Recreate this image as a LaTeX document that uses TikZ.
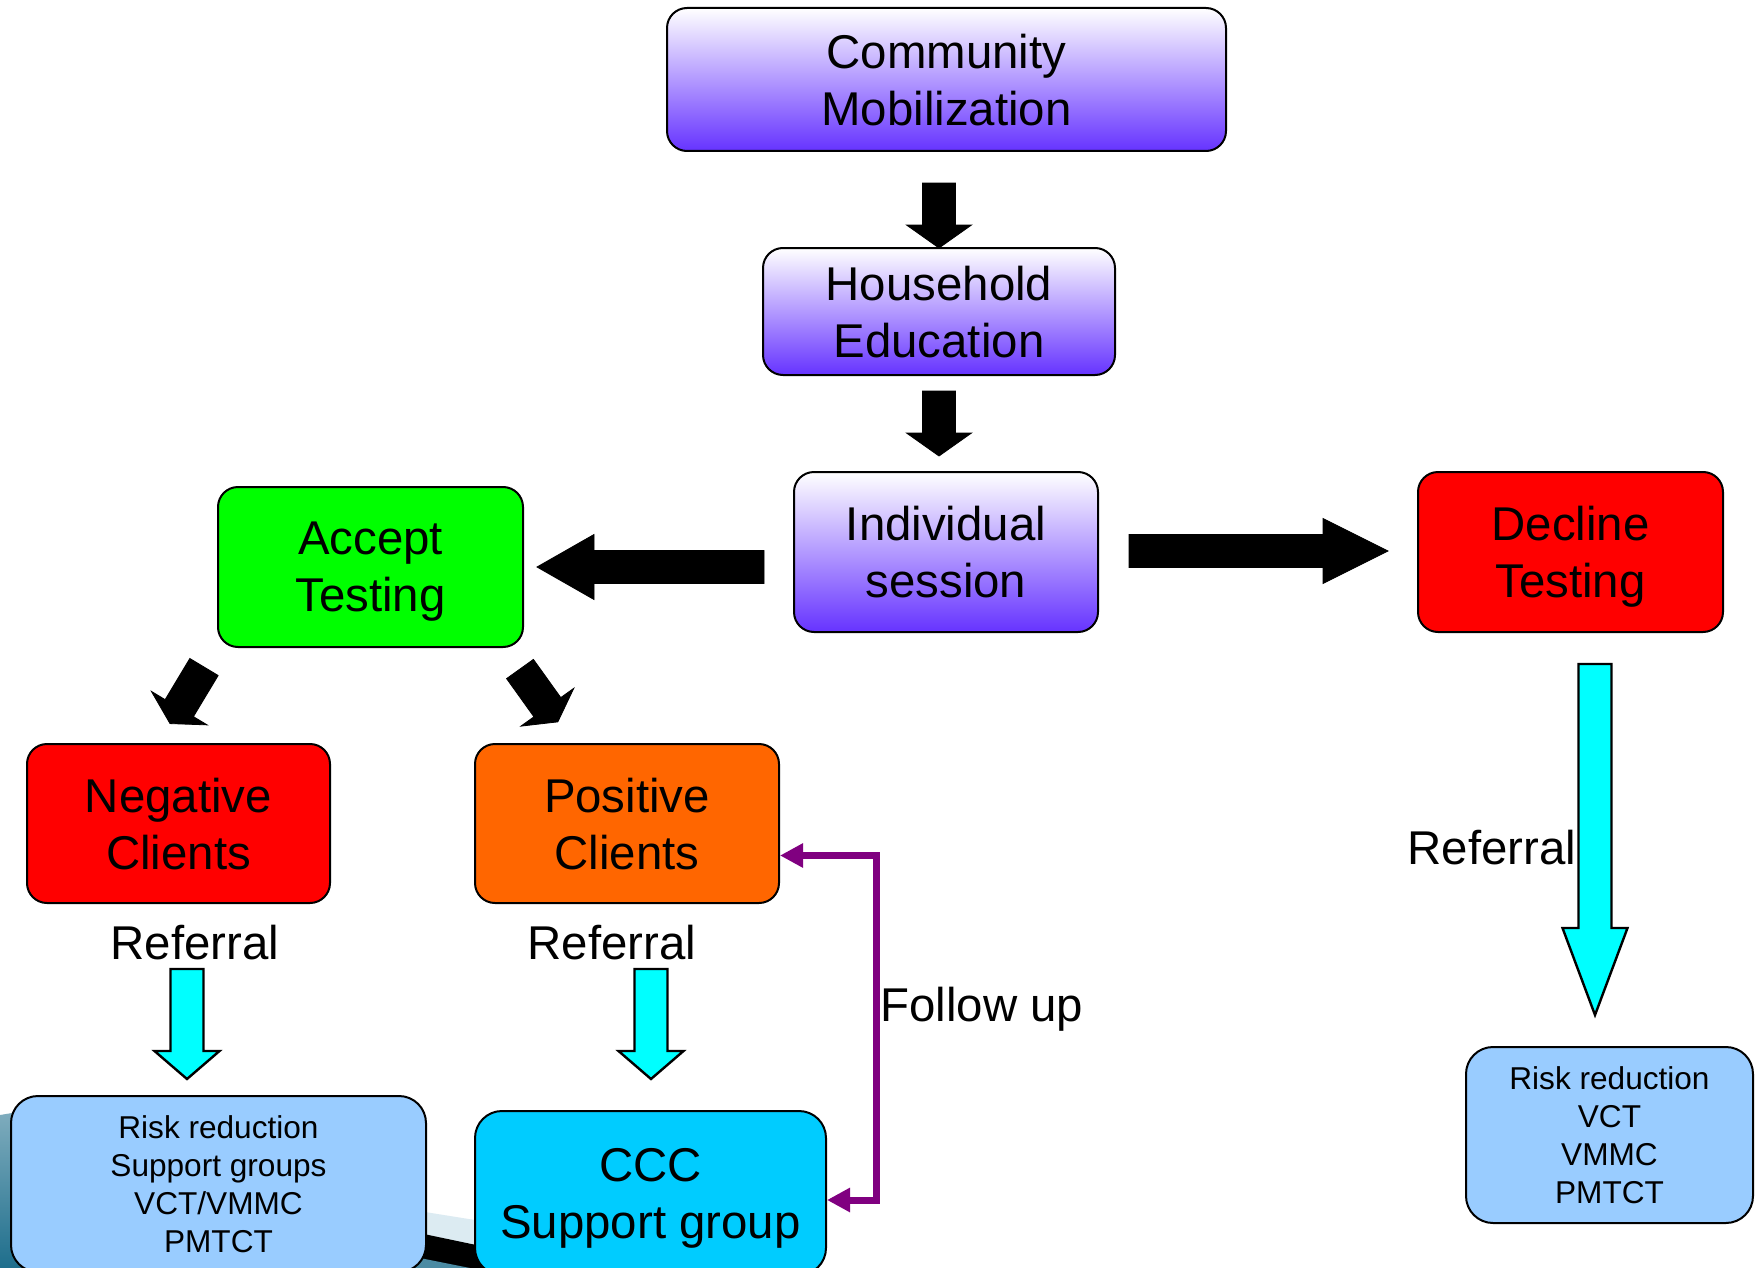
\documentclass[tikz,border=0pt]{standalone}
\usepackage{fontspec}
\setmainfont{Liberation Sans}
\usetikzlibrary{arrows.meta}

\definecolor{mobbottom}{RGB}{102,51,255}
\definecolor{acceptgreen}{RGB}{0,255,0}
\definecolor{declinered}{RGB}{255,0,0}
\definecolor{positiveorange}{RGB}{255,102,0}
\definecolor{servicesblue}{RGB}{153,204,255}
\definecolor{cccblue}{RGB}{0,204,255}
\definecolor{referralcyan}{RGB}{0,255,255}
\definecolor{followpurple}{RGB}{128,0,128}
\definecolor{slideteal}{RGB}{30,110,140}
\definecolor{slidepale}{RGB}{220,235,242}

\tikzset{
  stage/.style={draw=black, line width=1pt, rounded corners=10pt, align=center,
    inner sep=0pt, text depth=0pt, font=\fontsize{23.7}{28.5}\selectfont},
  education/.style={stage, top color=white, bottom color=mobbottom},
  services/.style={stage, fill=servicesblue, rounded corners=13.5pt,
    font=\fontsize{15.8}{19}\selectfont},
  referral/.style={inner sep=0pt, font=\fontsize{23.7}{28.5}\selectfont},
  blackarrow/.style={fill=black},
  cyanarrow/.style={draw=black, line width=1.2pt, fill=referralcyan},
  followup/.style={draw=followpurple, line width=3.5pt,
    {Triangle[length=11.5pt,width=11.5pt]}-{Triangle[length=11.5pt,width=11.5pt]}},
}

\begin{document}
\begin{tikzpicture}[x=0.5pt, y=-0.5pt]
        \useasboundingbox (0,0) rectangle (1762,1268);
        \fill [white] (0,0) rectangle (1762,1268);

        % slide background peeking out at the bottom left
        \shade [top color=slideteal!55, bottom color=slideteal] (0,1115) -- (60,1105) -- (60,1268) -- (0,1268) -- cycle;
        \fill [slidepale] (400,1208) -- (500,1224) -- (500,1268) -- (400,1268) -- cycle;
        \fill [black] (400,1229) -- (500,1250) -- (500,1268) -- (400,1268) -- cycle;
        \fill [slideteal!80] (400,1254) -- (500,1274) -- (400,1274) -- cycle;

        \node [education, minimum width=279.5pt, minimum height=71.5pt] (community) at (946.5,79.5) {Community\\Mobilization};
        \node [education, minimum width=176pt, minimum height=63.5pt] (household) at (939,311.5) {Household\\Education};
        \node [education, minimum width=152pt, minimum height=80pt] (individual) at (946,552) {Individual\\session};

        \node [stage, fill=acceptgreen, minimum width=152.5pt, minimum height=80pt] (accept) at (370.5,567) {Accept\\Testing};
        \node [stage, fill=declinered, minimum width=152.5pt, minimum height=80pt] (decline) at (1570.5,552) {Decline\\Testing};
        \node [stage, fill=declinered, minimum width=151.5pt, minimum height=79.5pt] (negative) at (178.5,823.5) {Negative\\Clients};
        \node [stage, fill=positiveorange, minimum width=152pt, minimum height=79.5pt] (positive) at (627,823.5) {Positive\\Clients};

        \node [services, minimum width=207.5pt, minimum height=88pt] (negservices) at (218.5,1184) {Risk reduction\\Support groups\\VCT/VMMC\\PMTCT};
        \node [stage, fill=cccblue, rounded corners=13.5pt, minimum width=175.5pt, minimum height=82pt] (ccc) at (650.5,1193) {CCC\\Support group};
        \node [services, minimum width=143.5pt, minimum height=88pt] (decservices) at (1609.5,1135) {Risk reduction\\VCT\\VMMC\\PMTCT};

        \newcommand{\shafthalf}{16.5}
        \newcommand{\headhalf}{32.5}
        \newcommand{\blockarrow}[5][blackarrow]{%
          \draw [#1, shift={(#2)}, rotate=#3]
            (0,-\shafthalf) -- (#4-#5,-\shafthalf) -- (#4-#5,-\headhalf)
            -- (#4,0) -- (#4-#5,\headhalf) -- (#4-#5,\shafthalf)
            -- (0,\shafthalf) -- cycle;}

        \coordinate (tohousehold) at (939,183);
        \coordinate (toindividual) at (939,391);
        \coordinate (toaccept) at (764,567);
        \coordinate (todecline) at (1129,551);
        \coordinate (tonegative) at (204,667);
        \coordinate (topositive) at (520,669);
        \coordinate (toneg services) at (187,969);
        \coordinate (toccc) at (651,969);
        \coordinate (todec services) at (1595,664);

        \blockarrow{tohousehold}{-90}{65}{23}
        \blockarrow{toindividual}{-90}{65}{23}
        \blockarrow{toaccept}{180}{227}{57}
        \blockarrow{todecline}{0}{259}{65}
        \blockarrow{tonegative}{-121}{66}{18}
        \blockarrow{topositive}{-54.4}{65}{18}
        \blockarrow[cyanarrow]{toneg services}{-90}{110}{28}
        \blockarrow[cyanarrow]{toccc}{-90}{110}{28}
        \blockarrow[cyanarrow]{todec services}{-90}{351}{87}

        \node [referral] (referralneg) at (195,943) {Referral};
        \node [referral] (referralpos) at (612,943) {Referral};
        \node [referral] (referraldec) at (1492,848) {Referral};

        \draw [followup] ([yshift=-16pt]positive.east) -- ++(96,0) |- ([yshift=-3.5pt]ccc.east);
        \node [referral, anchor=west] (followlabel) at (880,1009) {Follow up};

    \end{tikzpicture}
\end{document}
